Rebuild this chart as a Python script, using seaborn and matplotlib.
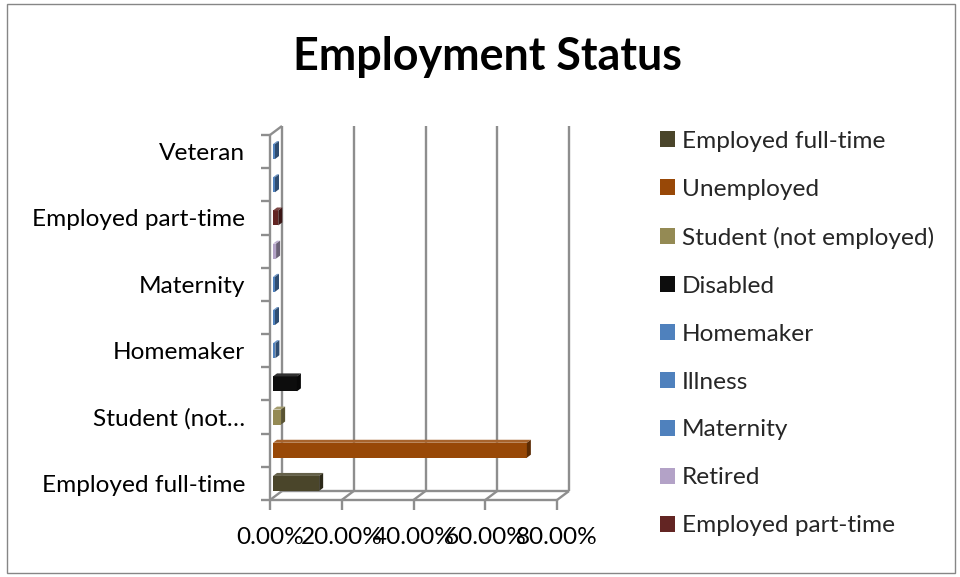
import matplotlib
matplotlib.use("Agg")
import matplotlib.pyplot as plt
import seaborn as sns
import pandas as pd
from matplotlib.patches import Polygon, Patch, Rectangle
from matplotlib.lines import Line2D
from matplotlib.transforms import IdentityTransform
from matplotlib.colors import to_rgb

# ---- data ----
categories = ["Employed full-time", "Unemployed", "Student (not employed)", "Disabled",
              "Homemaker", "Illness", "Maternity", "Retired", "Employed part-time",
              "Other", "Veteran"]
values = [13.7, 71.6, 3.1, 7.5, 1.5, 1.0, 1.0, 1.7, 2.3, 0.8, 0.8]
colors = ["#4A452A", "#984807", "#948A54", "#0D0D0D", "#4F81BD", "#4F81BD",
          "#4F81BD", "#B3A2C7", "#632523", "#4F81BD", "#4F81BD"]
ytick_labels = ["Employed full-time", "", "Student (not…", "", "Homemaker", "",
                "Maternity", "", "Employed part-time", "", "Veteran"]
xticks = [0, 20, 40, 60, 80]
xtick_labels = ["0.00%", "20.00%", "40.00%", "60.00%", "80.00%"]
legend_count = 9
title = "Employment Status"

sns.set_theme(style="white")
plt.rcParams['font.family'] = ['Lato', 'DejaVu Sans']

FS = 17.6
W, H = 960, 577
fig = plt.figure(figsize=(W / 100, H / 100), dpi=100)
ax = fig.add_axes([270 / W, 1 - 500 / H, 287 / W, 365 / H])
ax.patch.set_visible(False)

df = pd.DataFrame({"category": categories, "value": values})
order = categories[::-1]
pal = dict(zip(categories, colors))
sns.barplot(data=df, x="value", y="category", hue="category", order=order,
            hue_order=categories, palette=pal, orient="h", width=0.45,
            ax=ax, legend=False, saturation=1, edgecolor="none")

ax.set_xlim(xticks[0], xticks[-1])
ax.set_ylim(len(categories) - 0.5, -0.5)
for s in ax.spines.values():
    s.set_visible(False)
ax.set_xlabel("")
ax.set_ylabel("")
ax.set_xticks(xticks)
ax.set_xticklabels(xtick_labels)
ax.set_yticks(range(len(order)))
ax.set_yticklabels(ytick_labels[::-1])
ax.tick_params(axis="x", length=0, pad=19.5, labelsize=FS, colors="black")
ax.tick_params(axis="y", length=0, pad=18, labelsize=FS, colors="black")

# ---- pseudo-3D walls / grid (derived from axis scales) ----
T = ax.transData.transform
dx, dy = 12, 9
gcol = "#8E8E8E"
glw = 1.7
idt = IdentityTransform()

def line(xs, ys, **kw):
    ln = Line2D(xs, ys, transform=idt, color=gcol, lw=glw, clip_on=False,
                zorder=0.5, solid_capstyle="butt", **kw)
    ax.add_line(ln)

ybot = len(categories) - 0.5
ytop = -0.5
for v in xticks:
    bx, by = T((v, ybot))
    tx, ty = T((v, ytop))
    line([bx + dx, bx + dx], [by + dy, ty + dy])
    line([bx, bx + dx], [by, by + dy])
    line([bx, bx], [by, by - 10])
x0b, y0b = T((xticks[0], ybot))
x1b, _ = T((xticks[-1], ybot))
line([x0b, x1b], [y0b, y0b])
line([x0b + dx, x1b + dx], [y0b + dy, y0b + dy])
x0t, y0t = T((xticks[0], ytop))
line([x0t, x0t], [y0b, y0t])
line([x0t, x0t + dx], [y0t, y0t + dy])
for k in range(len(categories) + 1):
    _, yy = T((0, k - 0.5))
    line([x0t - 9, x0t], [yy, yy])

# ---- 3D faces for bars ----
bdx, bdy = 4, 3
for p in list(ax.patches):
    c = to_rgb(p.get_facecolor())
    x0, y0 = T((p.get_x(), p.get_y()))
    x1, y1 = T((p.get_x() + p.get_width(), p.get_y() + p.get_height()))
    yb, yt = min(y0, y1), max(y0, y1)
    x0 += 3
    x1 = max(x1, x0 + 2)
    p.set_visible(False)
    front = Polygon([(x0, yb), (x1, yb), (x1, yt), (x0, yt)], closed=True,
                    transform=idt, facecolor=c, edgecolor="none", clip_on=False, zorder=2)
    top_c = tuple(min(1, ci * 0.85 + 0.15) for ci in c)
    side_c = tuple(ci * 0.6 for ci in c)
    top = Polygon([(x0, yt), (x1, yt), (x1 + bdx, yt + bdy), (x0 + bdx, yt + bdy)],
                  closed=True, transform=idt, facecolor=top_c, edgecolor="none",
                  clip_on=False, zorder=2)
    side = Polygon([(x1, yb), (x1 + bdx, yb + bdy), (x1 + bdx, yt + bdy), (x1, yt)],
                   closed=True, transform=idt, facecolor=side_c, edgecolor="none",
                   clip_on=False, zorder=2)
    for poly in (front, top, side):
        ax.add_patch(poly)

# ---- title ----
fig.text(487 / W, 1 - 57 / H, title, ha="center", va="center",
         fontsize=32.3, fontweight="bold", color="black")

# ---- legend (truncated as in original) ----
handles = [Patch(facecolor=colors[i], edgecolor="none", label=categories[i])
           for i in range(legend_count)]
fig.legend(handles=handles, loc="upper left", bbox_to_anchor=(660 / W, 1 - 131 / H),
           frameon=False, fontsize=FS, handlelength=0.62, handleheight=0.62,
           handletextpad=0.29, labelspacing=1.1, borderaxespad=0, borderpad=0)

# ---- outer border ----
fig.add_artist(Rectangle((7 / W, 4 / H), 948 / W, 569 / H, transform=fig.transFigure,
                         fill=False, edgecolor="#868686", lw=1))

fig.savefig("out.png", dpi=100)
